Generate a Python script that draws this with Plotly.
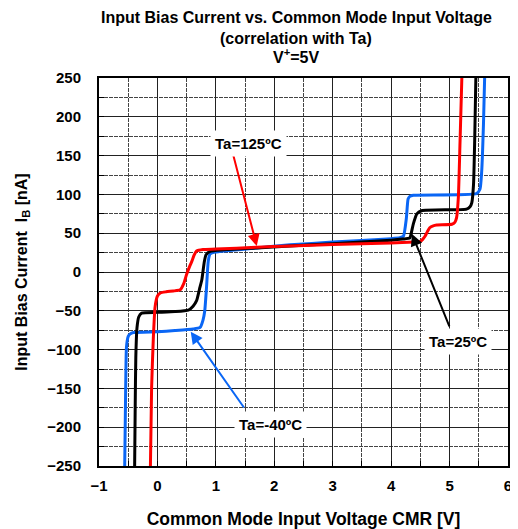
import plotly.graph_objects as go

# ---- data ----
red_x = [-0.12, -0.10, -0.07, -0.04, 0.00, 0.05, 0.15, 0.27, 0.39, 0.45, 0.50, 0.55, 0.59, 0.63, 0.67, 0.78, 1.00, 1.70, 2.27, 3.00, 4.00, 4.40, 4.49, 4.54, 4.58, 4.62, 4.66, 4.72, 4.78, 5.04, 5.09, 5.12, 5.15, 5.18, 5.21]
red_y = [-250, -150, -85, -45, -31, -27, -25.5, -24.5, -23, -15, -3, 7, 14, 22, 27, 29, 29.5, 32, 33.5, 35.5, 37.5, 38.5, 39, 42, 46, 52, 57, 59.5, 60.5, 61.5, 64, 70, 96, 170, 250]

black_x = [-0.39, -0.38, -0.37, -0.35, -0.32, -0.27, 0.00, 0.30, 0.53, 0.61, 0.67, 0.72, 0.76, 0.80, 0.83, 0.90, 1.70, 2.27, 3.00, 4.00, 4.20, 4.32, 4.35, 4.38, 4.44, 4.52, 5.29, 5.35, 5.38, 5.41, 5.43, 5.45]
black_y = [-250, -170, -110, -72, -58, -53, -52, -51, -49, -44, -37, -22, -10, 12, 22, 26.5, 31, 33.5, 36.5, 41, 42.5, 44, 52, 62, 75, 79, 81, 84, 89, 113, 170, 250]

blue_x = [-0.56, -0.55, -0.54, -0.53, -0.50, -0.47, -0.41, 0.00, 0.30, 0.61, 0.73, 0.78, 0.81, 0.84, 0.87, 0.90, 0.985, 1.70, 2.27, 3.00, 4.00, 4.15, 4.21, 4.26, 4.29, 4.32, 4.38, 5.46, 5.52, 5.55, 5.58, 5.60]
blue_y = [-250, -190, -130, -97, -83, -80, -78, -77, -75.5, -73.5, -71.5, -62, -50, -20, 14, 23, 25.7, 31, 35, 38.5, 43, 44.2, 46, 69, 94, 97.5, 99, 101, 106.6, 130, 190, 250]

labels = ["Ta=125ºC", "Ta=25ºC", "Ta=-40ºC"]
label_x = [1.567, 5.144, 1.93]
label_y = [166, -89, -196]
arrow_head_x = [1.70, 4.357, 0.57]
arrow_head_y = [33.5, 49, -77]
arrow_tail_x = [1.293, 5.007, 1.499]
arrow_tail_y = [152, -72, -176.5]

red_color = "#FF0000"
black_color = "#000000"
blue_color = "#0A66F5"
label_colors = [red_color, black_color, blue_color]

title_lines = ["Input Bias Current vs. Common Mode Input Voltage", "(correlation with Ta)", "V<sup>+</sup>=5V"]
title_y = [1.157, 1.103, 1.057]

x_range = [-1, 6]
y_range = [-250, 250]

fig = go.Figure()
for xs, ys, col in [(blue_x, blue_y, blue_color), (black_x, black_y, black_color), (red_x, red_y, red_color)]:
    fig.add_trace(go.Scatter(x=xs, y=ys, mode="lines",
                             line=dict(color=col, width=3, shape="spline", smoothing=0.5),
                             showlegend=False, hoverinfo="skip"))

font_family = "Liberation Sans, Arial, sans-serif"

for i in range(3):
    fig.add_annotation(x=arrow_head_x[i], y=arrow_head_y[i], ax=arrow_tail_x[i], ay=arrow_tail_y[i],
                       xref="x", yref="y", axref="x", ayref="y", text="", showarrow=True,
                       arrowhead=2, arrowsize=1.2, arrowwidth=2, arrowcolor=label_colors[i])
    fig.add_annotation(x=label_x[i], y=label_y[i], xref="x", yref="y", text=labels[i], showarrow=False,
                       bgcolor="white", borderpad=4,
                       font=dict(family=font_family, size=15, color="black", weight="bold"))

for t, ty in zip(title_lines, title_y):
    fig.add_annotation(x=0.482, y=ty, xref="paper", yref="paper", text=t, showarrow=False,
                       xanchor="center", yanchor="middle",
                       font=dict(family=font_family, size=16, color="black", weight="bold"))

axis_common = dict(showline=True, linecolor="black", linewidth=2, mirror=True, zeroline=False,
                   showgrid=True, gridcolor="#222222", gridwidth=1, automargin=False,
                   ticks="inside", ticklen=5, tickcolor="black",
                   tickfont=dict(family=font_family, size=15, color="black", weight="bold"))

fig.update_xaxes(range=x_range, tick0=0, dtick=1,
                 minor=dict(dtick=0.5, showgrid=True, griddash="4px,1px", gridcolor="#444444", ticks="inside", ticklen=5, tickcolor="black"),
                 ticklabelstandoff=5,
                 title=dict(text="Common Mode Input Voltage CMR [V]", standoff=20,
                            font=dict(family=font_family, size=17.5, color="black", weight="bold")),
                 **axis_common)
fig.update_yaxes(range=y_range, tick0=0, dtick=50,
                 minor=dict(dtick=25, showgrid=True, griddash="4px,1px", gridcolor="#444444", ticks="inside", ticklen=5, tickcolor="black"),
                 ticklabelstandoff=13,
                 title=dict(text="Input Bias Current  I<sub>B</sub> [nA]", standoff=16,
                            font=dict(family=font_family, size=16, color="black", weight="bold")),
                 **axis_common)

fig.update_layout(
    width=510, height=521,
    margin=dict(l=91, r=10, t=70, b=63),
    paper_bgcolor="white", plot_bgcolor="white",
)

fig.write_html("out.html")
